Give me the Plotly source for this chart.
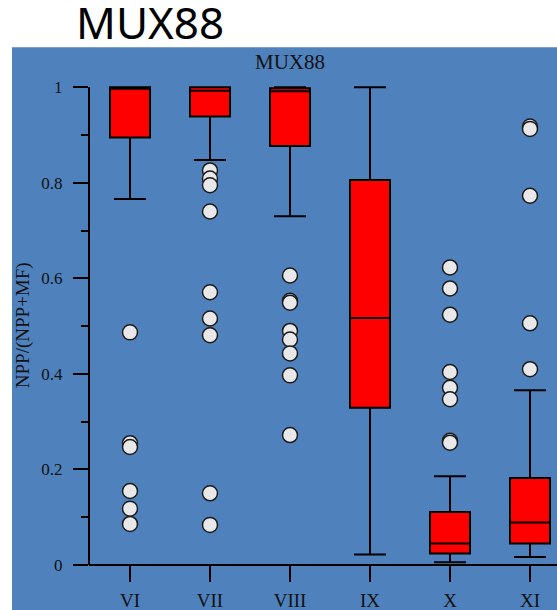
import plotly.graph_objects as go

# ---------------- data ----------------
categories = ["VI", "VII", "VIII", "IX", "X", "XI"]
q1_vals = [0.895, 0.939, 0.877, 0.329, 0.024, 0.045]
median_vals = [0.997, 0.993, 0.992, 0.517, 0.045, 0.089]
q3_vals = [1.0, 1.0, 0.998, 0.806, 0.111, 0.182]
lower_fence = [0.766, 0.848, 0.730, 0.022, 0.006, 0.017]
upper_fence = [1.0, 1.0, 1.0, 1.0, 0.186, 0.366]

outliers_VI = [0.487, 0.255, 0.247, 0.155, 0.118, 0.086]
outliers_VII = [0.826, 0.809, 0.795, 0.740, 0.571, 0.516, 0.481, 0.150, 0.084]
outliers_VIII = [0.606, 0.553, 0.549, 0.490, 0.472, 0.443, 0.397, 0.272]
outliers_IX = []
outliers_X = [0.623, 0.579, 0.524, 0.404, 0.371, 0.347, 0.260, 0.256]
outliers_XI = [0.918, 0.913, 0.773, 0.506, 0.410]

y_tick_vals = [0, 0.2, 0.4, 0.6, 0.8, 1]
y_tick_text = ["0", "0.2", "0.4", "0.6", "0.8", "1"]

title_text = "MUX88"
y_title = "NPP/(NPP+MF)"

# ---------------- layout geometry ----------------
W, H = 557, 610
ML, MR = 89, 0
Y0_PX, Y1_PX = 565, 87          # pixel rows of y=0 and y=1
Y_TOP = 1.03
unit = (Y0_PX - Y1_PX)
MT = Y1_PX - (Y_TOP - 1) * unit
MB = H - Y0_PX
PW = W - ML - MR
PH = H - MT - MB
CAT0_PX, CAT_STEP = 130, 80
x_range = [(ML - CAT0_PX) / CAT_STEP, (W - MR - CAT0_PX) / CAT_STEP]


def px_x(px):
    return (px - ML) / PW


def px_y(py):
    return (H - MB - py) / PH


BLUE = "#4F81BD"
SERIF = "Liberation Serif, Times New Roman, serif"

fig = go.Figure()

fig.add_trace(go.Box(
    x=categories,
    q1=q1_vals, median=median_vals, q3=q3_vals,
    lowerfence=lower_fence, upperfence=upper_fence,
    fillcolor="#FF0000",
    line=dict(color="#000000", width=2),
    width=0.5,
    whiskerwidth=0.8,
    boxpoints=False,
    hoverinfo="skip",
    showlegend=False,
))

all_out = [outliers_VI, outliers_VII, outliers_VIII, outliers_IX, outliers_X, outliers_XI]
ox, oy = [], []
for c, vals in zip(categories, all_out):
    for v in vals:
        ox.append(c)
        oy.append(v)

fig.add_trace(go.Scatter(
    x=ox, y=oy, mode="markers",
    marker=dict(size=15, color="#E8E8E8", line=dict(color="#1a1a1a", width=1.5)),
    showlegend=False, hoverinfo="skip",
))

shapes = [
    # blue panel
    dict(type="rect", xref="paper", yref="paper", layer="below",
         x0=px_x(12), x1=px_x(W + 20), y0=px_y(H + 20), y1=px_y(47),
         fillcolor=BLUE, line=dict(width=0)),
    # y axis line (0..1)
    dict(type="line", xref="paper", yref="paper",
         x0=0, x1=0, y0=0, y1=1 / Y_TOP, line=dict(color="#000", width=2)),
    # x axis line
    dict(type="line", xref="paper", yref="paper",
         x0=0, x1=px_x(W + 20), y0=0, y1=0, line=dict(color="#000", width=2)),
]

annotations = [
    dict(text=title_text, xref="paper", yref="paper", x=px_x(150), y=px_y(22),
         xanchor="center", yanchor="middle", showarrow=False,
         font=dict(family="Noto Sans, sans-serif", size=44, color="#000")),
    dict(text=title_text, xref="paper", yref="paper", x=px_x(290), y=px_y(62),
         xanchor="center", yanchor="middle", showarrow=False,
         font=dict(family=SERIF, size=21, color="#111")),
    dict(text=y_title, xref="paper", yref="paper", x=px_x(23), y=px_y(325),
         xanchor="center", yanchor="middle", showarrow=False, textangle=-90,
         font=dict(family=SERIF, size=19, color="#111")),
]

fig.update_layout(
    width=W, height=H,
    margin=dict(l=ML, r=MR, t=MT, b=MB, pad=0, autoexpand=False),
    paper_bgcolor="white",
    plot_bgcolor="rgba(0,0,0,0)",
    shapes=shapes,
    annotations=annotations,
    xaxis=dict(
        type="category", categoryorder="array", categoryarray=categories,
        range=x_range, showgrid=False, zeroline=False, showline=False,
        automargin=False,
        ticks="outside", ticklen=16, tickwidth=2, tickcolor="#000",
        tickfont=dict(family=SERIF, size=19, color="#111"),
        ticklabelstandoff=2,
    ),
    yaxis=dict(
        range=[0, Y_TOP], showgrid=False, zeroline=False, showline=False,
        automargin=False,
        tickvals=y_tick_vals, ticktext=y_tick_text,
        ticks="outside", ticklen=15, tickwidth=2, tickcolor="#000",
        tickfont=dict(family=SERIF, size=17, color="#111"),
        ticklabelstandoff=7,
        minor=dict(dtick=0.1, tick0=0, ticks="outside", ticklen=7,
                   tickwidth=2, tickcolor="#000", showgrid=False),
    ),
)

fig.write_html("out.html")
